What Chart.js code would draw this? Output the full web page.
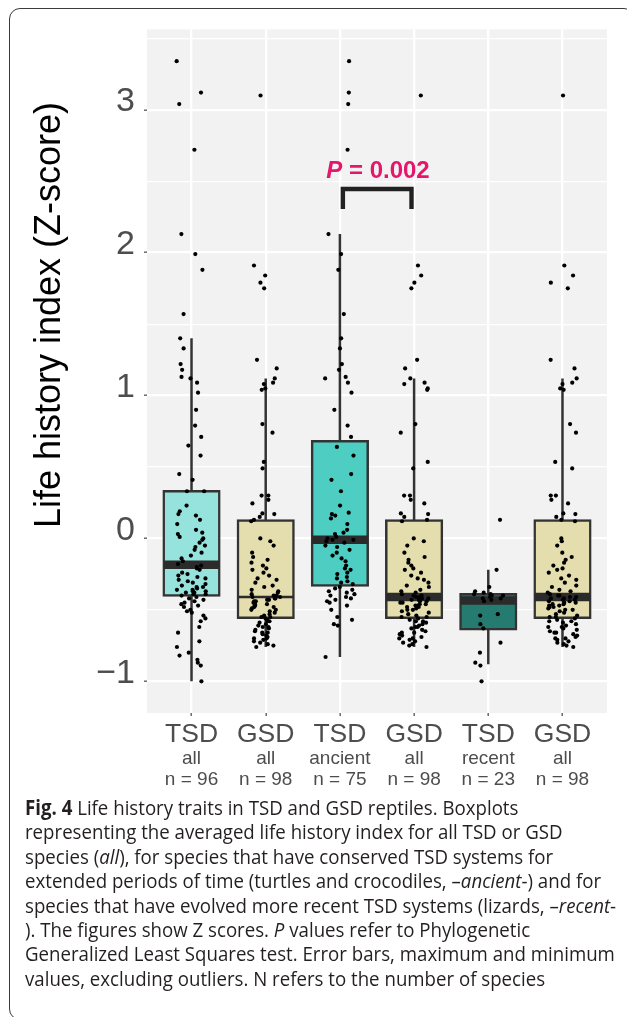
<!DOCTYPE html>
<html>
<head>
<meta charset="utf-8">
<script src="https://cdn.jsdelivr.net/npm/chart.js@4.4.1/dist/chart.umd.min.js"></script>
<style>
  html, body { margin: 0; padding: 0; background: #fff; }
  body { width: 627px; height: 1017px; position: relative; overflow: hidden; }
  #frame {
    position: absolute; left: 9px; top: 8px; width: 626px; height: 1012px;
    border: 1.4px solid #3a3a3a; border-radius: 11px; box-sizing: border-box;
  }
  #chartBox { position: absolute; left: 0; top: 0; width: 627px; height: 800px; }
  #caption {
    position: absolute; left: 25px; top: 795px;
    font-family: 'Open Sans', 'Noto Sans', sans-serif; font-size: 20.5px; line-height: 24.4px;
    color: #231f20; white-space: nowrap;
    transform-origin: left top; transform: scaleX(0.91);
  }
</style>
</head>
<body>
<div id="frame"></div>
<div id="chartBox"><canvas id="lhChart" width="627" height="800"></canvas></div>
<div id="caption">
<b>Fig. 4</b> Life history traits in TSD and GSD reptiles. Boxplots<br>
representing the averaged life history index for all TSD or GSD<br>
species (<i>all</i>), for species that have conserved TSD systems for<br>
extended periods of time (turtles and crocodiles, –<i>ancient</i>-) and for<br>
species that have evolved more recent TSD systems (lizards, –<i>recent</i>-<br>
). The figures show Z scores. <i>P</i> values refer to Phylogenetic<br>
Generalized Least Squares test. Error bars, maximum and minimum<br>
values, excluding outliers. N refers to the number of species
</div>
<script>
// categorias e rótulos
const categories = ['TSD', 'GSD', 'TSD', 'GSD', 'TSD', 'GSD'];
const subLabels = ['all', 'all', 'ancient', 'all', 'recent', 'all'];
const sampleSizes = [96, 98, 75, 98, 23, 98];
const yTicks = [-1, -0.5, 0, 0.5, 1, 1.5, 2, 2.5, 3, 3.5];

// estatísticas das caixas
const whiskerMin = [-1.00, -0.76, -0.83, -0.76, -0.88, -0.76];
const q1 = [-0.40, -0.555, -0.33, -0.555, -0.635, -0.555];
const median = [-0.185, -0.41, -0.01, -0.41, -0.435, -0.41];
const q3 = [0.33, 0.125, 0.68, 0.125, -0.39, 0.125];
const whiskerMax = [1.40, 1.12, 2.13, 1.12, -0.22, 1.12];

// pontos individuais (Z-score por espécie)
const tsdAll = [
  3.34, 3.12, 3.04, 2.72, 2.13, 1.99, 1.88, 1.57,
  1.40, 1.33, 1.22, 1.18, 1.13, 1.12, 1.09, 1.02, 0.90, 0.79, 0.71, 0.65, 0.58, 0.45, 0.41, 0.33,
  0.33, 0.23, 0.19, 0.17, 0.16, 0.13, 0.10, 0.06, 0.04, 0.03, 0.01, 0.00, -0.01, -0.03, -0.05, -0.06,
  -0.08, -0.10, -0.12, -0.14, -0.16, -0.18, -0.19, -0.20, -0.21, -0.22, -0.24, -0.25, -0.26, -0.27,
  -0.28, -0.29, -0.30, -0.31, -0.32, -0.33, -0.34, -0.34, -0.35, -0.36, -0.36, -0.37, -0.37, -0.38,
  -0.38, -0.39, -0.39, -0.40,
  -0.41, -0.42, -0.43, -0.44, -0.45, -0.46, -0.47, -0.48, -0.50, -0.51, -0.52, -0.54, -0.56, -0.58,
  -0.62, -0.66, -0.72, -0.76, -0.80, -0.82, -0.85, -0.87, -0.89, -1.00
];
const gsdAll = [
  3.10, 1.91, 1.84, 1.79, 1.75, 1.25, 1.19, 1.12, 1.09, 1.08, 1.05, 1.04, 0.80, 0.74, 0.535, 0.49,
  0.30, 0.30, 0.27, 0.245, 0.175, 0.17, 0.15, 0.13,
  0.12, 0.00, -0.02, -0.05, -0.10, -0.13, -0.15, -0.17, -0.19, -0.21, -0.22, -0.24, -0.26, -0.28,
  -0.29, -0.31, -0.33, -0.34, -0.36, -0.37, -0.38, -0.39, -0.40, -0.40, -0.41, -0.41, -0.42, -0.42,
  -0.43, -0.43, -0.44, -0.44, -0.45, -0.45, -0.46, -0.46, -0.47, -0.47, -0.48, -0.48, -0.49, -0.50,
  -0.50, -0.51, -0.52, -0.53, -0.54, -0.55, -0.55,
  -0.56, -0.57, -0.58, -0.58, -0.59, -0.60, -0.61, -0.62, -0.62, -0.63, -0.64, -0.65, -0.66, -0.66,
  -0.67, -0.68, -0.69, -0.70, -0.70, -0.71, -0.72, -0.73, -0.74, -0.75, -0.76
];
const tsdAncient = [
  3.34, 3.12, 3.04, 2.72, 2.13, 1.99, 1.88, 1.57,
  1.40, 1.33, 1.22, 1.18, 1.13, 1.12, 1.09, 1.02, 0.90, 0.79, 0.71,
  0.64, 0.58, 0.45, 0.41, 0.33, 0.23, 0.18, 0.17, 0.16, 0.14, 0.10, 0.06, 0.04, 0.03, 0.01, 0.00,
  -0.01, -0.01, -0.02, -0.03, -0.05, -0.06, -0.08, -0.10, -0.12, -0.14, -0.16, -0.19, -0.21, -0.22,
  -0.24, -0.25, -0.27, -0.28, -0.30, -0.31, -0.32,
  -0.34, -0.35, -0.36, -0.37, -0.38, -0.39, -0.40, -0.41, -0.42, -0.43, -0.44, -0.45, -0.47, -0.50,
  -0.55, -0.57, -0.60, -0.61, -0.83
];
const tsdRecent = [
  0.13, -0.22, -0.34, -0.37, -0.38, -0.39, -0.39, -0.40, -0.40, -0.41, -0.42, -0.42, -0.43, -0.44,
  -0.53, -0.54, -0.60, -0.63, -0.73, -0.80, -0.87, -0.89, -1.00
];
const groupPoints = [tsdAll, gsdAll, tsdAncient, gsdAll, tsdRecent, gsdAll];

// anotação do teste PGLS
const pLabel = '0.002';
const bracketFrom = 2.04, bracketTo = 2.965, bracketTop = 2.445, bracketFoot = 2.305;

// estilos
const boxColors = ['#96e2dc', '#e4ddad', '#4ecdc3', '#e4ddad', '#257b70', '#e4ddad'];
const medianWidths = [8.5, 2.5, 8.5, 8.5, 8.5, 8.5];
const lineDark = '#333333';
const halfBox = 0.375;
const jitterWidth = 0.2;

Chart.defaults.font.family = "'Liberation Sans', Arial, Helvetica, sans-serif";

// espalhamento horizontal determinístico dos pontos
function jitter(g, i) {
  const s = Math.sin(g * 127.1 + i * 311.7) * 43758.5453;
  return ((s - Math.floor(s)) * 2 - 1) * jitterWidth;
}

const pointData = [];
groupPoints.forEach((vals, g) => {
  vals.forEach((v, i) => pointData.push({ x: g + jitter(g, i), y: v }));
});

const datasets = [];
datasets.push({
  type: 'scatter', data: pointData, order: 0,
  pointRadius: 2.1, pointBackgroundColor: '#000', pointBorderWidth: 0
});
categories.forEach((c, i) => {
  datasets.push({
    type: 'line', order: 1, pointRadius: 0, borderColor: '#2b2b2b',
    borderWidth: medianWidths[i], borderCapStyle: 'butt',
    data: [{ x: i - halfBox, y: median[i] }, { x: i + halfBox, y: median[i] }]
  });
  datasets.push({
    type: 'line', order: 3, pointRadius: 0, borderColor: lineDark, borderWidth: 2.5,
    data: [{ x: i, y: q3[i] }, { x: i, y: whiskerMax[i] }]
  });
  datasets.push({
    type: 'line', order: 3, pointRadius: 0, borderColor: lineDark, borderWidth: 2.5,
    data: [{ x: i, y: whiskerMin[i] }, { x: i, y: q1[i] }]
  });
});
datasets.push({
  type: 'bar', order: 2,
  data: categories.map((c, i) => ({ x: i, y: [q1[i], q3[i]] })),
  backgroundColor: boxColors, borderColor: lineDark, borderWidth: 2.5,
  borderSkipped: false, inflateAmount: 1.25,
  barPercentage: 0.75, categoryPercentage: 1
});

const panelBackground = {
  id: 'panelBackground',
  beforeDraw(chart) {
    const { ctx, chartArea: a } = chart;
    ctx.save();
    ctx.fillStyle = '#f2f2f2';
    ctx.fillRect(a.left, a.top, a.right - a.left, a.bottom - a.top);
    ctx.restore();
  }
};

const extraText = {
  id: 'extraText',
  afterDraw(chart) {
    const { ctx, chartArea: a } = chart;
    const xs = chart.scales.x, ys = chart.scales.y;
    ctx.save();
    // rótulos do eixo x em três linhas
    ctx.textAlign = 'center';
    ctx.textBaseline = 'alphabetic';
    ctx.fillStyle = '#4d4d4d';
    categories.forEach((c, i) => {
      const px = xs.getPixelForValue(i);
      ctx.font = "26.5px 'Liberation Sans', Arial";
      ctx.fillText(c, px, a.bottom + 29);
      ctx.font = "19px 'Liberation Sans', Arial";
      ctx.fillText(subLabels[i], px, a.bottom + 51);
      ctx.fillText('n = ' + sampleSizes[i], px, a.bottom + 72);
    });
    // título do eixo y
    ctx.save();
    ctx.translate(60, 315);
    ctx.rotate(-Math.PI / 2);
    ctx.fillStyle = '#000';
    ctx.font = "36px 'Liberation Sans', Arial";
    ctx.fillText('Life history index (Z-score)', 0, 0);
    ctx.restore();
    // colchete e valor de P
    const x1 = xs.getPixelForValue(bracketFrom), x2 = xs.getPixelForValue(bracketTo);
    const yt = ys.getPixelForValue(bracketTop), yf = ys.getPixelForValue(bracketFoot);
    ctx.strokeStyle = '#222';
    ctx.lineWidth = 4.4;
    ctx.lineJoin = 'miter';
    ctx.lineCap = 'butt';
    ctx.beginPath();
    ctx.moveTo(x1, yf); ctx.lineTo(x1, yt); ctx.lineTo(x2, yt); ctx.lineTo(x2, yf);
    ctx.stroke();
    ctx.fillStyle = '#e5176b';
    const fItal = "italic bold 24px 'Liberation Sans', Arial";
    const fBold = "bold 24px 'Liberation Sans', Arial";
    const rest = ' = ' + pLabel;
    ctx.font = fItal; const wP = ctx.measureText('P').width;
    ctx.font = fBold; const wR = ctx.measureText(rest).width;
    const cx = (xs.getPixelForValue(2) + xs.getPixelForValue(3)) / 2 + 1;
    const sx = cx - (wP + wR) / 2, by = yt - 11;
    ctx.textAlign = 'left';
    ctx.font = fItal; ctx.fillText('P', sx, by);
    ctx.font = fBold; ctx.fillText(rest, sx + wP, by);
    ctx.restore();
  }
};

new Chart(document.getElementById('lhChart'), {
  type: 'bar',
  data: { datasets },
  plugins: [panelBackground, extraText],
  options: {
    responsive: false,
    animation: false,
    devicePixelRatio: 1,
    layout: { padding: { top: 24, right: 20, left: 0, bottom: 0 } },
    plugins: { legend: { display: false }, tooltip: { enabled: false } },
    scales: {
      x: {
        type: 'linear', min: -0.6, max: 5.6, offset: false,
        afterBuildTicks: s => { s.ticks = categories.map((c, i) => ({ value: i })); },
        afterFit: s => { s.height = 87; },
        border: { display: false },
        grid: { color: '#ffffff', lineWidth: 2.3, offset: false, tickColor: '#333', tickLength: 3, tickWidth: 1.1 },
        ticks: { display: false }
      },
      y: {
        type: 'linear', min: -1.222, max: 3.5625,
        afterBuildTicks: s => { s.ticks = yTicks.map(v => ({ value: v })); },
        afterFit: s => { s.width = 147; },
        border: { display: false },
        grid: {
          color: '#ffffff',
          lineWidth: c => Number.isInteger(c.tick.value) ? 2.3 : 1.15,
          tickColor: c => Number.isInteger(c.tick.value) ? '#333' : 'rgba(0,0,0,0)',
          tickLength: 3, tickWidth: 1.1
        },
        ticks: {
          padding: 9, labelOffset: -8, color: '#4d4d4d',
          font: { size: 34 },
          callback: v => Number.isInteger(v) ? (v < 0 ? '\u2212' + Math.abs(v) : String(v)) : ''
        }
      }
    }
  }
});
</script>
</body>
</html>
